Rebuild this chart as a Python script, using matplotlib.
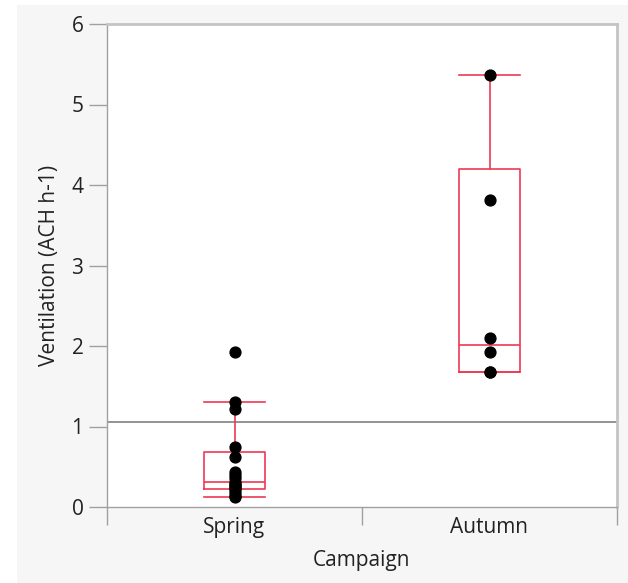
import numpy as np
import matplotlib
matplotlib.use("Agg")
import matplotlib.pyplot as plt
from matplotlib.patches import Rectangle

categories = ["Spring", "Autumn"]
spring = [0.12, 0.14, 0.17, 0.21, 0.23, 0.25, 0.27, 0.29, 0.31, 0.36, 0.40, 0.43,
          0.62, 0.75, 1.22, 1.31, 1.92]
autumn = [1.68, 1.68, 1.93, 2.10, 3.81, 5.37]
ref_line = 1.06
yticks = [0, 1, 2, 3, 4, 5, 6]

plt.rcParams['font.family'] = ['Open Sans', 'DejaVu Sans']

fs = 15

fig = plt.figure(figsize=(6.28, 5.83), dpi=100)
fig.patch.set_facecolor("white")
fig.patches.append(Rectangle((17 / 628, 0), 1, 1 - 5 / 583, transform=fig.transFigure,
                             facecolor="#f6f6f6", edgecolor="none", zorder=-10))
ax = fig.add_axes([107 / 628, 1 - 507 / 583, 510 / 628, 483 / 583])
ax.set_facecolor("white")

red = "#ee3a55"

def box_stats(vals, label):
    v = np.sort(np.asarray(vals))
    q1, med, q3 = np.quantile(v, [0.25, 0.5, 0.75], method="weibull")
    iqr = q3 - q1
    lo = v[v >= q1 - 1.5 * iqr].min()
    hi = v[v <= q3 + 1.5 * iqr].max()
    return dict(med=med, q1=q1, q3=q3, whislo=lo, whishi=hi, fliers=[], label=label)

data = [spring, autumn]
stats = [box_stats(d, c) for d, c in zip(data, categories)]
pos = [0.5, 1.5]
lp = dict(color=red, linewidth=1.2)
ax.bxp(stats, positions=pos, widths=0.24, capwidths=0.24, showfliers=False,
       boxprops=lp, whiskerprops=lp, capprops=lp, medianprops=lp, zorder=3)

for p, d in zip(pos, data):
    ax.plot([p] * len(d), d, 'o', color="black", markersize=7.8, zorder=5, linestyle="none")

ax.axhline(ref_line, color="#8a8a8a", linewidth=1.3, zorder=2)

ax.set_xlim(0, 2)
ax.set_ylim(0, 6)
ax.set_yticks(yticks)
ax.set_xticks([0, 1, 2])
ax.set_xticklabels([])
ax.set_xticks(pos, minor=True)
ax.set_xticklabels(categories, minor=True)
ax.tick_params(axis="x", which="minor", length=0, pad=7, labelsize=fs, labelcolor="#222222")
ax.tick_params(axis="x", which="major", length=13, width=1, color="#a0a0a0")
ax.tick_params(axis="y", length=13, width=1, color="#a0a0a0", labelsize=fs,
               labelcolor="#222222", pad=4)

for s in ["left", "bottom"]:
    ax.spines[s].set_color("#a0a0a0")
    ax.spines[s].set_linewidth(1.0)
for s in ["top", "right"]:
    ax.spines[s].set_color("#c4c4c4")
    ax.spines[s].set_linewidth(2.0)

ax.set_ylabel("Ventilation (ACH h-1)", fontsize=fs, color="#222222", labelpad=8)
ax.set_xlabel("Campaign", fontsize=fs, color="#222222", labelpad=9)

fig.savefig("out.png", dpi=100, facecolor=fig.get_facecolor())
